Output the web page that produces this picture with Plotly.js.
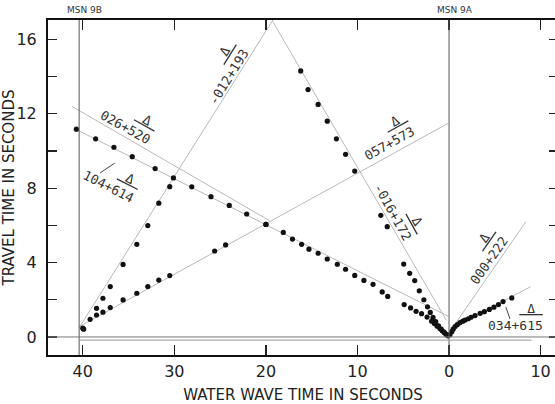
<!DOCTYPE html>
<html>
<head>
<meta charset="utf-8">
<script src="https://cdn.plot.ly/plotly-3.0.1.min.js"></script>
<style>html,body{margin:0;padding:0;overflow:hidden;background:#fff;width:555px;height:404px;}</style>
</head>
<body>
<div id="chart" style="width:558px;height:404px;"></div>
<script>
// ---- data ----
const xTickVals = [40, 30, 20, 10, 0, -10];
const xTickText = ['40', '30', '20', '10', '0', '10'];
const yTickVals = [0, 2, 4, 6, 8, 10, 12, 14, 16];
const yTickText = ['0', '', '4', '', '8', '', '12', '', '16'];

// dots: rising steeply from MSN 9B  (-012 + Δ/193)
const riseSteepX = [40.0, 39.2, 38.5, 37.8, 37.0, 35.6, 34.1, 32.9, 31.7, 30.5];
const riseSteepY = [0.47, 0.95, 1.54, 2.08, 2.71, 3.90, 4.98, 5.99, 7.19, 8.08];
// dots: rising slowly from MSN 9B (057 + Δ/573)
const riseSlowX = [39.9, 38.5, 37.8, 37.0, 35.6, 34.1, 32.9, 31.7, 30.5, 25.6, 24.4, 20.0];
const riseSlowY = [0.42, 1.18, 1.33, 1.58, 1.99, 2.35, 2.71, 3.06, 3.30, 4.62, 4.95, 6.05];
// dots: falling slowly towards MSN 9A (104 + Δ/614)
const fallSlowX = [40.7, 38.6, 36.6, 34.6, 32.1, 30.1, 28.1, 26.0, 24.0, 22.1, 20.0, 18.1, 17.1, 16.1, 15.3, 14.3, 13.3, 12.2, 11.3, 10.3, 9.3, 8.3, 7.3, 6.7, 4.9, 4.2, 3.6, 3.0, 2.4, 1.9, 1.6, 1.3, 1.0, 0.75, 0.5, 0.3, 0.12];
const fallSlowY = [11.17, 10.65, 10.20, 9.69, 9.05, 8.55, 8.07, 7.54, 7.07, 6.61, 6.05, 5.62, 5.26, 4.98, 4.72, 4.50, 4.19, 3.91, 3.64, 3.31, 3.04, 2.83, 2.42, 2.18, 1.74, 1.56, 1.38, 1.25, 1.07, 0.85, 0.72, 0.58, 0.45, 0.33, 0.22, 0.13, 0.06];
// dots: falling steeply towards MSN 9A (-016 + Δ/172)
const fallSteepX = [16.2, 15.4, 14.3, 13.3, 12.3, 11.3, 10.3, 7.45, 6.75, 4.95, 4.3, 3.75, 3.25, 2.75, 2.35, 2.05, 1.75, 1.45, 1.15, 0.85, 0.55, 0.3];
const fallSteepY = [14.3, 13.3, 12.5, 11.6, 10.65, 9.82, 8.92, 6.54, 5.93, 3.92, 3.42, 3.03, 2.48, 2.00, 1.62, 1.32, 1.05, 0.82, 0.60, 0.42, 0.26, 0.14];
// dots: beyond MSN 9A (034 + Δ/615)
const beyondX = [-0.1, -0.3, -0.45, -0.66, -0.9, -1.2, -1.5, -1.75, -2.1, -2.4, -2.84, -3.4, -3.86, -4.4, -4.9, -5.4, -5.9, -6.85];
const beyondY = [0.12, 0.28, 0.42, 0.56, 0.66, 0.77, 0.85, 0.91, 0.98, 1.06, 1.15, 1.27, 1.36, 1.48, 1.60, 1.74, 1.90, 2.10];

// fitted straight lines (end points)
const fit026X = [41.2, 19.6],  fit026Y = [12.4, 6.25];
const fit104X = [40.7, 0.05],  fit104Y = [11.15, 1.1];
const fit012X = [40.4, 19.1],  fit012Y = [0.5, 17.15];
const fit016X = [19.3, 0.3],   fit016Y = [17.0, 0.9];
const fit057X = [40.4, 0.05],  fit057Y = [0.55, 11.5];
const fit000X = [-0.1, -8.4],  fit000Y = [0.3, 6.2];
const fit034X = [-0.1, -8.9],  fit034Y = [0.4, 2.7];

// line labels: intercept, denominator, position, angle
const labelNums = ['026', '104', '-012', '057', '-016', '000', '034'];
const labelDens = ['520', '614', '193', '573', '172', '222', '615'];
const labelX    = [34.9, 36.8, 24.8, 6.9, 5.35, -3.6, -7.3];
const labelY    = [11.67, 8.5, 14.25, 10.8, 6.94, 4.35, 1.08];
const labelAng  = [29, 27, -58, -29, 61, -55, 0];

const stationNames = ['MSN 9B', 'MSN 9A'];
const stationX = [40.4, 0];

// ---- build ----
const dotStyle = {color: '#111', size: 5.2};
const fitStyle = {color: '#b8b8b8', width: 1};
function dots(x, y, name) { return {x, y, name, type: 'scatter', mode: 'markers', marker: dotStyle, showlegend: false, hoverinfo: 'x+y'}; }
function fit(x, y, name) { return {x, y, name, type: 'scatter', mode: 'lines', line: fitStyle, showlegend: false, hoverinfo: 'skip'}; }

const traces = [
  fit(fit026X, fit026Y, '026'), fit(fit104X, fit104Y, '104'), fit(fit012X, fit012Y, '-012'),
  fit(fit016X, fit016Y, '-016'), fit(fit057X, fit057Y, '057'), fit(fit000X, fit000Y, '000'),
  fit(fit034X, fit034Y, '034'),
  dots(riseSteepX, riseSteepY, 'rise steep'), dots(riseSlowX, riseSlowY, 'rise slow'),
  dots(fallSlowX, fallSlowY, 'fall slow'), dots(fallSteepX, fallSteepY, 'fall steep'),
  dots(beyondX, beyondY, 'beyond 9A')
];

const NB = '\u00a0';
const annotations = labelNums.map((n, i) => ({
  x: labelX[i], y: labelY[i], xref: 'x', yref: 'y',
  text: NB.repeat(n.length + 1) + '<u>' + NB + 'Δ' + NB + '</u><br>' + n + '+' + labelDens[i],
  showarrow: false, textangle: labelAng[i], align: 'left',
  xanchor: 'center', yanchor: 'middle',
  font: {family: 'DejaVu Sans Mono, monospace', size: 13, color: '#333'}
}));
stationNames.forEach((s, i) => annotations.push({
  x: stationX[i] - 0.6, y: 1, xref: 'x', yref: 'paper', yanchor: 'bottom', yshift: 3,
  text: s, showarrow: false, font: {family: 'DejaVu Sans, sans-serif', size: 9, color: '#333'}
}));

const shapes = [
  ...stationX.map(x => ({type: 'line', xref: 'x', yref: 'paper', x0: x, x1: x, y0: 0, y1: 1, line: {color: '#555', width: 1}})),
  {type: 'line', xref: 'paper', yref: 'y', x0: 0, x1: 1, y0: 0, y1: 0, line: {color: '#777', width: 1}},
  {type: 'line', xref: 'x', yref: 'y', x0: 40.4, x1: -9.0, y0: -0.17, y1: -0.17, line: {color: '#999', width: 1}},
  {type: 'line', xref: 'x', yref: 'y', x0: 38.1, x1: 36.5, y0: 8.82, y1: 9.35, line: {color: '#444', width: 1}},
  {type: 'line', xref: 'x', yref: 'y', x0: -6.2, x1: -6.66, y0: 1.61, y1: 0.97, line: {color: '#444', width: 1}}
];

const tickFont = {family: 'DejaVu Sans, sans-serif', size: 16, color: '#222'};
const layout = {
  width: 558, height: 404,
  margin: {l: 48, r: 0, t: 20, b: 49},
  paper_bgcolor: '#fff', plot_bgcolor: '#fff',
  xaxis: {
    range: [43.8, -11.9], tickmode: 'array', tickvals: xTickVals, ticktext: xTickText,
    ticks: 'inside', ticklen: 10, tickwidth: 1.2, tickcolor: '#222',
    showline: true, linewidth: 2, linecolor: '#111', mirror: 'ticks',
    showgrid: false, zeroline: false, tickfont: tickFont, ticklabelstandoff: 1,
    title: {text: NB.repeat(8) + 'WATER WAVE TIME IN SECONDS', font: {family: 'DejaVu Sans, sans-serif', size: 15, color: '#222'}, standoff: 10}
  },
  yaxis: {
    range: [-0.97, 17.04], tickmode: 'array', tickvals: yTickVals, ticktext: yTickText,
    ticks: 'inside', ticklen: 9, tickwidth: 1.2, tickcolor: '#222',
    showline: true, linewidth: 2, linecolor: '#111', mirror: 'ticks',
    showgrid: false, zeroline: false, tickfont: tickFont, ticklabelstandoff: 6,
    title: {text: NB.repeat(5) + 'TRAVEL TIME IN SECONDS', font: {family: 'DejaVu Sans, sans-serif', size: 15, color: '#222'}, standoff: 2}
  },
  annotations, shapes, showlegend: false
};
Plotly.newPlot('chart', traces, layout, {staticPlot: true, displayModeBar: false});
</script>
</body>
</html>
